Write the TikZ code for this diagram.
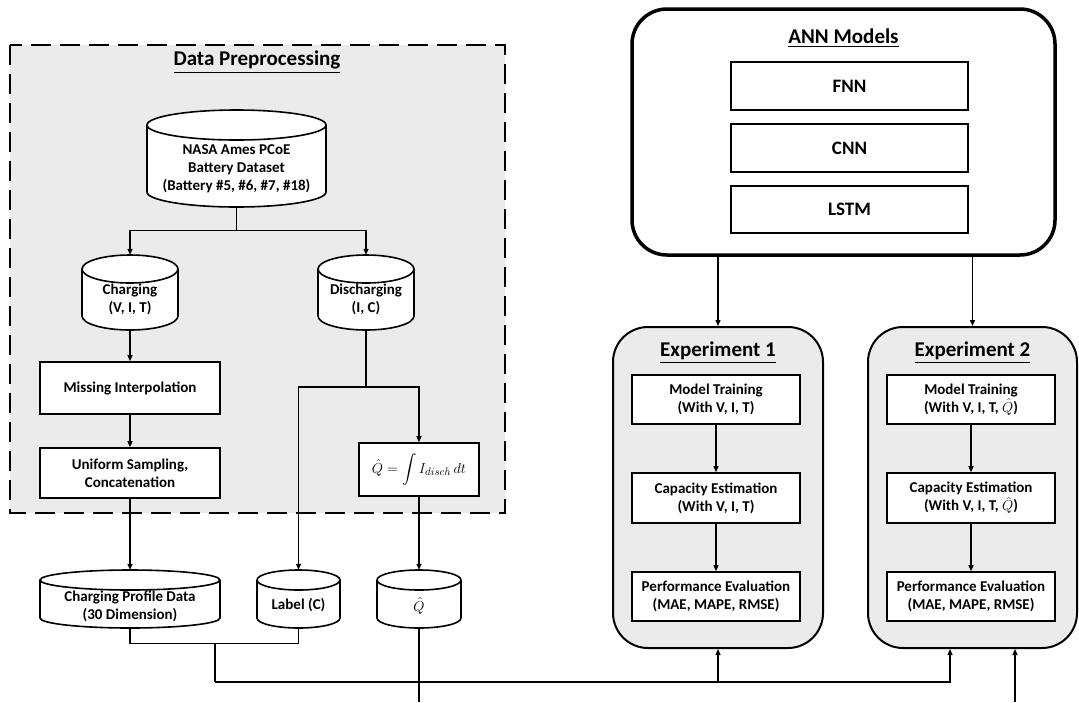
\documentclass[tikz,border=0pt]{standalone}
\usepackage{amsmath}
\usepackage{fontspec}
\setmainfont{Carlito}
\usetikzlibrary{arrows.meta,calc}

\definecolor{panel}{HTML}{ECEBEB}

\newcommand\bodyfont{\fontsize{15}{18}\selectfont\bfseries}
\newcommand\headfont{\fontsize{21}{24}\selectfont\bfseries}
\newcommand\modelfont{\fontsize{19}{22}\selectfont\bfseries}

\tikzset{
  box/.style={draw, line width=1.6pt, fill=white, align=center, font=\bodyfont, inner sep=0pt},
  panelbox/.style={draw, line width=2pt, fill=panel, rounded corners=35pt, inner sep=0pt},
  heading/.style={font=\headfont, inner sep=0pt},
  drumline/.style={line width=1.6pt, fill=white},
  wire/.style={line width=1.3pt},
  arr/.style={line width=1.3pt, -{Triangle[length=6pt,width=5pt]}},
}

% database drum: name, centre x, top y, bottom y, half width, ellipse radius, text y, text
\newcommand\drum[8]{%
  \draw[drumline] (#2-#5,#3+#6) -- (#2-#5,#4-#6)
     arc[start angle=180,end angle=360,x radius=#5pt,y radius=#6pt]
     -- (#2+#5,#3+#6)
     arc[start angle=0,end angle=180,x radius=#5pt,y radius=#6pt] -- cycle;
  \draw[drumline,fill=none] (#2-#5,#3+#6)
     arc[start angle=180,end angle=360,x radius=#5pt,y radius=#6pt];
  \node[inner sep=0pt, minimum width={2*#5pt}, minimum height={#4pt-#3pt}]
     (#1) at (#2,{(#3+#4)/2}) {};
  \node[align=center, font=\bodyfont, inner sep=0pt] at (#2,#7) {#8};
}

\begin{document}
\begin{tikzpicture}[x=1pt,y=-1pt]
\useasboundingbox (0,0) rectangle (1079,702);

% ---------------- data preprocessing ----------------
\draw[line width=2pt, dash pattern=on 20pt off 9pt, fill=panel] (10,45) rectangle (505,513);
\node[heading] (dptitle) at (257,62) {\underline{Data Preprocessing}};

\drum{nasa}{236.5}{110}{207}{89.5}{15}{168.5}{NASA Ames PCoE\\Battery Dataset\\(Battery \#5, \#6, \#7, \#18)}
\drum{chg}{130}{255}{330}{48}{14}{299.5}{Charging\\(V, I, T)}
\drum{dis}{366}{255}{330}{48}{14}{299.5}{Discharging\\(I, C)}

\node[box, minimum width=180pt, minimum height=52pt] (miss) at (130,388) {Missing Interpolation};
\node[box, minimum width=180pt, minimum height=50pt] (unif) at (130,473) {Uniform Sampling,\\Concatenation};
\node[box, minimum width=120pt, minimum height=53pt, font=\fontsize{15}{18}\selectfont] (qint) at (419,469.5) {$\displaystyle\hat{Q} = \int I_{disch}\,dt$};

\drum{prof}{130}{570}{628}{90}{10}{606.5}{Charging Profile Data\\(30 Dimension)}
\drum{lab}{298.5}{570}{628}{41.5}{10}{605}{Label (C)}
\drum{qd}{419}{570}{628}{42}{10}{606}{$\hat{Q}$}

\draw[arr] (nasa.south) -- ++(0,23) -| (chg.north);
\draw[arr] (nasa.south) -- ++(0,23) -| (dis.north);
\draw[arr] (chg.south) -- (miss.north);
\draw[arr] (miss.south) -- (unif.north);
\coordinate (dsplit) at (366,387);
\draw[wire] (dis.south) -- (dsplit);
\draw[arr] (dsplit) -| (lab.north);
\draw[arr] (dsplit) -| (qint.north);
\draw[arr] (unif.south) -- (prof.north);
\draw[arr] (qint.south) -- (qd.north);

% ---------------- ANN models ----------------
\node[draw, line width=3.5pt, rounded corners=35pt, inner sep=0pt,
      minimum width=423pt, minimum height=246pt] (ann) at (843.5,132) {};
\node[heading] (anntitle) at (843.5,38) {\underline{ANN Models}};
\node[box, font=\modelfont, minimum width=237pt, minimum height=48pt] (fnn) at (849.5,86) {FNN};
\node[box, font=\modelfont, minimum width=237pt, minimum height=48pt] (cnn) at (849.5,148) {CNN};
\node[box, font=\modelfont, minimum width=237pt, minimum height=47pt] (lstm) at (849.5,209.5) {LSTM};

% ---------------- experiments ----------------
\node[panelbox, minimum width=210pt, minimum height=321pt] (exp1) at (718,487.5) {};
\node[panelbox, minimum width=209pt, minimum height=321pt] (exp2) at (972.5,487.5) {};
\node[heading] (e1title) at (718,353) {\underline{Experiment 1}};
\node[heading] (e2title) at (972.5,353) {\underline{Experiment 2}};

\node[box, minimum width=168pt, minimum height=49pt] (tr1) at (716,399.5) {Model Training\\(With V, I, T)};
\node[box, minimum width=168pt, minimum height=50pt] (ce1) at (716,498) {Capacity Estimation\\(With V, I, T)};
\node[box, minimum width=168pt, minimum height=49pt] (pe1) at (716,596.5) {Performance Evaluation\\(MAE, MAPE, RMSE)};

\node[box, minimum width=168pt, minimum height=49pt] (tr2) at (971,399.5) {Model Training\\(With V, I, T, $\hat{Q}$)};
\node[box, minimum width=168pt, minimum height=50pt] (ce2) at (971,498) {Capacity Estimation\\(With V, I, T, $\hat{Q}$)};
\node[box, minimum width=168pt, minimum height=49pt] (pe2) at (971,596.5) {Performance Evaluation\\(MAE, MAPE, RMSE)};

\draw[arr] (tr1) -- (ce1);
\draw[arr] (ce1) -- (pe1);
\draw[arr] (tr2) -- (ce2);
\draw[arr] (ce2) -- (pe2);

\draw[arr] (ann.south -| exp1.north) -- (exp1.north);
\draw[arr] (ann.south -| exp2.north) -- (exp2.north);

% ---------------- data feeds into the experiments ----------------
\coordinate (merge) at (215,643);
\coordinate (bus) at (215,682);
\coordinate (e2a) at ($(exp2.south)+(-22.5,0)$);
\coordinate (e2b) at ($(exp2.south)+(42.5,0)$);
\coordinate (qout) at (419,702);
\coordinate (qin) at (1015,702);

\draw[wire] (prof.south) -- ++(0,15) -| (lab.south);
\draw[wire] (merge) -- (bus);
\draw[arr] (bus) -| (exp1.south);
\draw[arr] (bus) -| (e2a);
\draw[wire] (qd.south) -- (qout);
\draw[arr] (qin) -- (e2b);
\end{tikzpicture}
\end{document}
